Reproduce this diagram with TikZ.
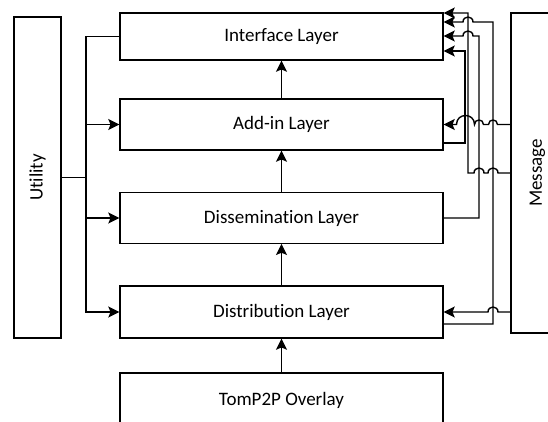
\documentclass[tikz,border=0pt]{standalone}
\usepackage{fontspec}
\setmainfont{Carlito}[Ligatures=NoCommon]
\usetikzlibrary{arrows.meta}

\begin{document}
\begin{tikzpicture}[x=1pt,y=-1pt,
  box/.style={draw, line width=1.4pt, inner sep=0pt, fill=white},
  lbl/.style={font=\fontsize{19}{21}\selectfont, inner sep=0pt},
  link/.style={line width=1.4pt},
  arr/.style={link, -{Stealth[length=11pt,width=11pt,inset=2.2pt]}},
]
% canvas
\clip (0,0) rectangle (548,421);
\fill[white] (0,0) rectangle (548,421);

% side blocks
\node[box, minimum width=47pt, minimum height=321pt] (util) at (37.5,177.5) {};
\node[lbl, rotate=90] (utiltext) at (util.center) {Utility};
\node[box, minimum width=53pt, minimum height=320pt] (msg) at (537.5,173) {};
\node[lbl, rotate=90] (msgtext) at (msg.center) {Message};

% layer stack
\node[box, lbl, minimum width=323pt, minimum height=47pt]  (iface)  at (281.5,36.5)  {Interface Layer};
\node[box, lbl, minimum width=323pt, minimum height=51pt]  (addin)  at (281.5,124.5) {Add-in Layer};
\node[box, lbl, minimum width=323pt, minimum height=50.5pt] (dissem) at (281.5,218)  {Dissemination Layer};
\node[box, lbl, minimum width=323pt, minimum height=52pt]  (dist)   at (281.5,312)   {Distribution Layer};
\node[box, lbl, minimum width=323pt, minimum height=54pt]  (overlay) at (281.5,400)  {TomP2P Overlay};

% upward flow between layers
\draw[arr] (overlay.north) -- (dist.south);
\draw[arr] (dist.north) -- (dissem.south);
\draw[arr] (dissem.north) -- (addin.south);
\draw[arr] (addin.north) -- (iface.south);

% utility bus on the left
\coordinate (bus) at (86,177.5);
\draw[link] (util.east) -- (bus) |- (iface.west);
\draw[arr] (util.east) -- (bus) |- (addin.west);
\draw[arr] (util.east) -- (bus) |- (dissem.west);
\draw[arr] (util.east) -- (bus) |- (dist.west);

% risers on the right, with line jumps at crossings
% Add-in -> Interface
\draw[arr] (addin.east |- 0,143) -- (465,143) -- (465,51) -- (iface.east |- 0,51);
% Dissemination -> Interface
\draw[arr] (dissem.east) -- (479,218) -- (479,36) -- (473,36)
  .. controls (473,29.33) and (463,29.33) .. (463,36) -- (iface.east |- 0,36);
% Distribution -> Interface
\draw[arr] (dist.east |- 0,324) -- (493,324) -- (493,22) -- (473,22)
  .. controls (473,15.33) and (463,15.33) .. (463,22) -- (iface.east |- 0,22);
% Message -> Interface
\draw[arr] (msg.west |- 0,173) -- (498,173)
  .. controls (498,166.33) and (488,166.33) .. (488,173) -- (484,173)
  .. controls (484,166.33) and (474,166.33) .. (474,173) -- (468,173)
  -- (468,13) -- (iface.east |- 0,13);
% Message -> Add-in
\draw[arr] (msg.west |- addin.east) -- (497.5,124.5)
  .. controls (497.5,118.5) and (488.5,118.5) .. (488.5,124.5) -- (483.5,124.5)
  .. controls (483.5,118.5) and (474.5,118.5) .. (474.5,124.5)
  .. controls (474.5,112.5) and (456.5,112.5) .. (456.5,124.5)
  -- (addin.east);
% Message -> Distribution
\draw[arr] (msg.west |- dist.east) -- (498,312)
  .. controls (498,305.33) and (488,305.33) .. (488,312) -- (dist.east);
\end{tikzpicture}
\end{document}
